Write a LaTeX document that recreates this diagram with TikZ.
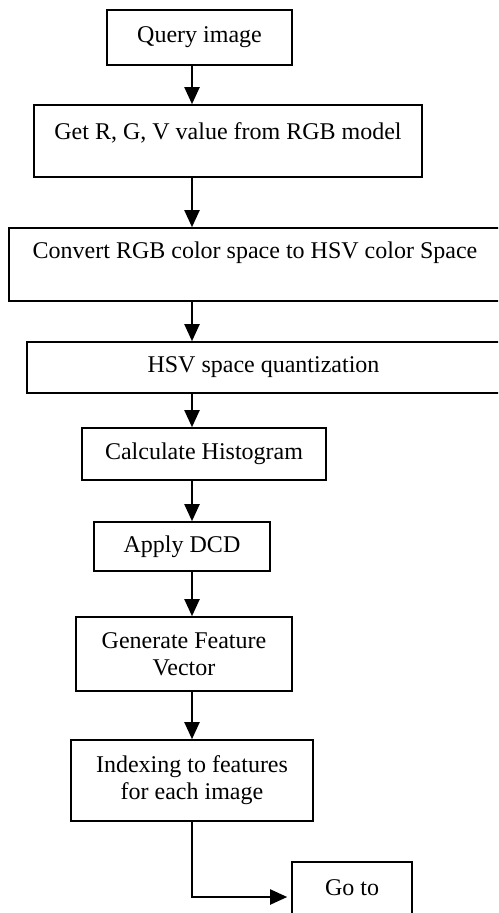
\documentclass[tikz,border=0pt]{standalone}
\usepackage{fontspec}
\setmainfont{Liberation Serif}
\usetikzlibrary{arrows.meta}
\tikzset{
  box/.style={draw=black, line width=0.8pt, inner sep=0pt, align=center,
    font=\fontsize{12}{13.6}\selectfont},
  txt/.style={inner sep=0pt, align=center, font=\fontsize{12}{13.6}\selectfont},
  arr/.style={line width=1pt, -{Triangle[width=7.5pt,length=8.5pt]}}
}
\begin{document}
\begin{tikzpicture}[x=0.5pt,y=-0.5pt]
\useasboundingbox (0,0) rectangle (498,913);
\clip (0,0) rectangle (498,913);
\coordinate (colx) at (192,0);
% boxes
\node[box, minimum width=92.5pt, minimum height=27.5pt] (q) at (199.5,37.5) {Query image};
\node[box, minimum width=194pt, minimum height=36pt] (getr) at (228,141) {};
\node[txt] (getrT) at (228,133) {Get R, G, V value from RGB model};
\node[box, minimum width=246pt, minimum height=36.5pt] (conv) at (255,264.5) {};
\node[txt] (convT) at (255,253) {Convert RGB color space to HSV color Space};
\node[box, minimum width=236.5pt, minimum height=25.5pt] (hsv) at (263.5,367.5) {HSV space quantization};
\node[box, minimum width=122pt, minimum height=26pt] (calc) at (204,454) {Calculate Histogram};
\node[box, minimum width=88pt, minimum height=24.5pt] (dcd) at (182,546.5) {Apply DCD};
\node[box, minimum width=108pt, minimum height=37pt] (gen) at (184,654) {Generate Feature\\Vector};
\node[box, minimum width=121pt, minimum height=40.5pt] (idx) at (192,780.5) {Indexing to features\\for each image};
\node[box, minimum width=60pt, minimum height=35pt] (goto) at (352,897) {};
\node[txt] (gotoT) at (352,888) {Go to};
% connectors
\draw[arr] (q.south -| colx) -- (getr.north -| colx);
\draw[arr] (getr.south -| colx) -- (conv.north -| colx);
\draw[arr] (conv.south -| colx) -- (hsv.north -| colx);
\draw[arr] (hsv.south -| colx) -- (calc.north -| colx);
\draw[arr] (calc.south -| colx) -- (dcd.north -| colx);
\draw[arr] (dcd.south -| colx) -- (gen.north -| colx);
\draw[arr] (gen.south -| colx) -- (idx.north -| colx);
\draw[arr, shorten >=2pt] (idx.south -| colx) |- (goto.west);
\end{tikzpicture}
\end{document}
